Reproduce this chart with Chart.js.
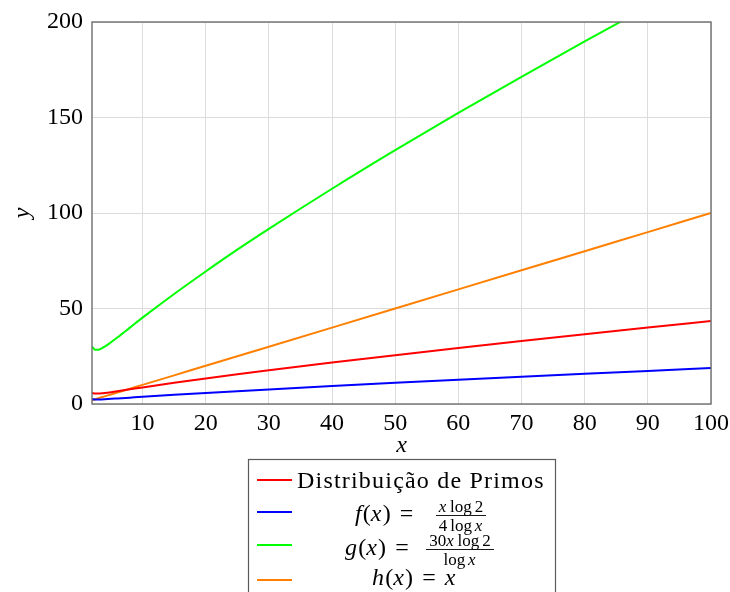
<!DOCTYPE html>
<html>
<head>
<meta charset="utf-8">
<script src="https://cdn.jsdelivr.net/npm/chart.js@4"></script>
<style>
  html, body { margin: 0; padding: 0; background: #fff; }
  #wrap { width: 730px; height: 592px; }
</style>
</head>
<body>
<div id="wrap"><canvas id="grafico" width="730" height="592"></canvas></div>
<script>
// valores
const xs = [2, 2.5, 3, 3.5, 4, 5, 6, 8, 10, 15, 20, 25, 30, 40, 50, 60, 70, 80, 90, 100];
const primos = [5.77, 5.46, 5.46, 5.59, 5.77, 6.21, 6.70, 7.69, 8.69, 11.08, 13.35, 15.53, 17.64, 21.69, 25.56, 29.31, 32.95, 36.51, 40.00, 43.43];
const fVals = [2.50, 2.36, 2.37, 2.42, 2.50, 2.69, 2.90, 3.33, 3.76, 4.80, 5.78, 6.73, 7.64, 9.39, 11.07, 12.70, 14.28, 15.82, 17.33, 18.81];
const gVals = [30.0, 28.4, 28.4, 29.1, 30.0, 32.3, 34.8, 40.0, 45.2, 57.6, 69.4, 80.8, 91.7, 112.7, 132.9, 152.4, 171.3, 189.8, 208.0, 225.8];
const hVals = [2, 2.5, 3, 3.5, 4, 5, 6, 8, 10, 15, 20, 25, 30, 40, 50, 60, 70, 80, 90, 100];
const xTicks = [10, 20, 30, 40, 50, 60, 70, 80, 90, 100];
const yTicks = [0, 50, 100, 150, 200];
const cores = ['#ff0000', '#0000ff', '#00ff00', '#ff8000'];
const nomes = ['Distribuição de Primos', 'f(x) = x log 2 / 4 log x', 'g(x) = 30x log 2 / log x', 'h(x) = x'];

const serif = '"Liberation Serif", "DejaVu Serif", serif';

function pontos(ys) {
    let arr = [];
    for (let i = 0; i < xs.length; i++) {
        arr.push({ x: xs[i], y: ys[i] });
    }
    return arr;
}

// mede (e escreve, se pedido) texto com letras em itálico (estilo matemático)
function mat(ctx, texto, x, y, size, escrever) {
    let tokens = texto.match(/log|./g);
    let cx = x;
    ctx.textBaseline = 'alphabetic';
    ctx.textAlign = 'left';
    for (let i = 0; i < tokens.length; i++) {
        let t = tokens[i];
        let italico = /^[fghxy]$/.test(t);
        ctx.font = (italico ? 'italic ' : '') + size + 'px ' + serif;
        if (t === ' ') {
            cx += size * 0.17;
        } else if (t === '_') {
            cx += size * 0.38;
        } else {
            if (escrever) ctx.fillText(t, cx, y);
            cx += ctx.measureText(t).width;
            if (italico) cx += size * 0.05;
        }
    }
    return cx - x;
}

function fracao(ctx, esquerda, num, den, x0, fx0, fx1, y) {
    mat(ctx, esquerda, x0, y, 24, true);
    let wn = mat(ctx, num, 0, 0, 17, false);
    let wd = mat(ctx, den, 0, 0, 17, false);
    let meio = (fx0 + fx1) / 2;
    mat(ctx, num, meio - wn / 2, y - 9, 17, true);
    mat(ctx, den, meio - wd / 2, y + 10, 17, true);
    ctx.beginPath();
    ctx.lineWidth = 0.9;
    ctx.strokeStyle = '#000';
    ctx.moveTo(fx0, y - 5.5);
    ctx.lineTo(fx1, y - 5.5);
    ctx.stroke();
}

const molduraELegenda = {
    id: 'molduraELegenda',
    afterDraw(chart) {
        let ctx = chart.ctx;
        let a = chart.chartArea;
        ctx.save();
        // moldura do gráfico
        ctx.strokeStyle = '#6e6e6e';
        ctx.lineWidth = 1.4;
        ctx.strokeRect(a.left, a.top, a.right - a.left, a.bottom - a.top);

        // caixa da legenda
        ctx.strokeStyle = '#5a5a5a';
        ctx.lineWidth = 1.2;
        ctx.strokeRect(248.5, 459.5, 307, 150);

        let ys = [480, 512, 545, 580];
        for (let i = 0; i < 4; i++) {
            ctx.beginPath();
            ctx.strokeStyle = cores[i];
            ctx.lineWidth = 1.8;
            ctx.moveTo(257, ys[i]);
            ctx.lineTo(292, ys[i]);
            ctx.stroke();
        }
        ctx.fillStyle = '#000';
        ctx.font = '24px ' + serif;
        ctx.letterSpacing = '1.2px';
        ctx.textBaseline = 'alphabetic';
        ctx.textAlign = 'left';
        ctx.fillText(nomes[0], 297, 488);
        ctx.letterSpacing = '0px';
        fracao(ctx, 'f(x)_=', 'x log 2', '4 log x', 355, 436, 486, 521);
        fracao(ctx, 'g(x)_=', '30x log 2', 'log x', 345, 426, 494, 555);
        mat(ctx, 'h(x)_=_x', 372, 585, 24, true);
        ctx.restore();
    }
};

let datasets = [];
let series = [primos, fVals, gVals, hVals];
for (let i = 0; i < series.length; i++) {
    datasets.push({
        label: nomes[i],
        data: pontos(series[i]),
        borderColor: cores[i],
        backgroundColor: cores[i],
        borderWidth: 2,
        pointRadius: 0,
        cubicInterpolationMode: 'monotone',
        fill: false
    });
}

new Chart(document.getElementById('grafico').getContext('2d'), {
    type: 'line',
    data: { datasets: datasets },
    plugins: [molduraELegenda],
    options: {
        responsive: false,
        animation: false,
        events: [],
        layout: { padding: { left: 0, top: 22, right: 19, bottom: 132 } },
        plugins: {
            legend: { display: false },
            tooltip: { enabled: false }
        },
        scales: {
            x: {
                type: 'linear',
                min: 2,
                max: 100,
                afterBuildTicks: function(axis) {
                    axis.ticks = xTicks.map(function(v) { return { value: v }; });
                },
                afterFit: function(axis) {
                    axis.height = 56;
                    axis.paddingLeft = 0;
                    axis.paddingRight = 0;
                },
                grid: { color: '#dcdcdc', lineWidth: 1, drawTicks: false },
                border: { display: false },
                ticks: {
                    color: '#000',
                    padding: 5,
                    maxRotation: 0,
                    autoSkip: false,
                    font: { family: serif, size: 24 }
                },
                title: {
                    display: true,
                    text: 'x',
                    color: '#000',
                    padding: { top: 2, bottom: 0 },
                    font: { family: serif, size: 24, style: 'italic' }
                }
            },
            y: {
                type: 'linear',
                min: 0,
                max: 200,
                afterBuildTicks: function(axis) {
                    axis.ticks = yTicks.map(function(v) { return { value: v }; });
                },
                afterFit: function(axis) {
                    axis.width = 92;
                    axis.paddingTop = 0;
                    axis.paddingBottom = 0;
                },
                grid: { color: '#dcdcdc', lineWidth: 1, drawTicks: false },
                border: { display: false },
                ticks: {
                    color: '#000',
                    padding: 9,
                    font: { family: serif, size: 24 }
                },
                title: {
                    display: true,
                    text: 'y',
                    color: '#000',
                    padding: { top: 8, bottom: 0 },
                    font: { family: serif, size: 24, style: 'italic' }
                }
            }
        }
    }
});
</script>
</body>
</html>
